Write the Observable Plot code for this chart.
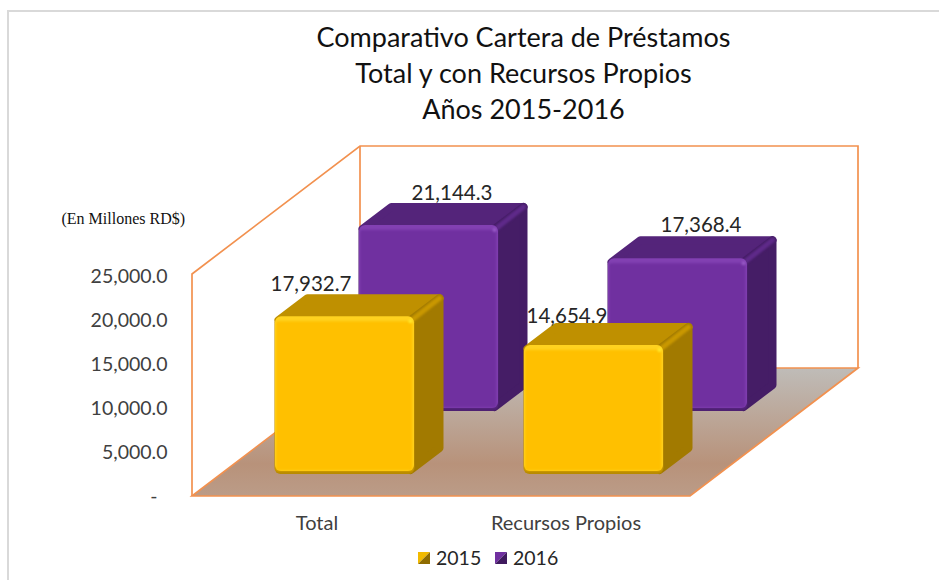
<!DOCTYPE html>
<html>
<head>
<meta charset="utf-8">
<script src="https://cdn.jsdelivr.net/npm/d3@7"></script>
<script src="https://cdn.jsdelivr.net/npm/@observablehq/plot@0.6"></script>
<style>
  html, body { margin: 0; padding: 0; background: #fff; }
  #chart { position: relative; width: 941px; height: 580px; overflow: hidden; }
  #frame { position: absolute; left: 7px; top: 10px; width: 930px; height: 570px;
           border-left: 2.5px solid #d9d9d9; border-top: 2.5px solid #d9d9d9; pointer-events: none; }
  .soft { filter: blur(1.2px); }
</style>
</head>
<body>
<div id="chart"><div id="frame"></div></div>
<script>
const categories = ["Total", "Recursos Propios"];
const years = ["2015", "2016"];
const values2015 = [17932.7, 14654.9];
const values2016 = [21144.3, 17368.4];
const yTicks = [0, 5000, 10000, 15000, 20000, 25000];
const titleLines = ["Comparativo Cartera de Préstamos", "Total y con Recursos Propios", "Años 2015-2016"];
const unitNote = "(En Millones RD$)";

const FONT = "Lato, 'Open Sans', sans-serif";
const INK = "#262626";
const depth = {dx: 168, dy: -128};
const looks = {
  "2015": {dx: 28,  dy: -22, front: "#FFC000", edge: "#B98B00", glow: "#FFD21F", top: "#BF9000", side: "#A27A00", ridge: "#C99800", tip: "#FFE92E", swatchA: "#F2BA00", swatchB: "#8F6C00",
           nudge: {"Total": [-6, -54], "Recursos Propios": [1, -51]}},
  "2016": {dx: 112, dy: -85, front: "#7030A0", edge: "#4E2072", glow: "#8240B2", top: "#54247A", side: "#451D66", ridge: "#5F2A8A", tip: "#9A5CC8", swatchA: "#7030A0", swatchB: "#3F1A5E",
           nudge: {"Total": [135, -117], "Recursos Propios": [135, -118]}}
};
const rows = years.map((year, s) => categories.map((category, i) => ({
  year, category, value: (s === 0 ? values2015 : values2016)[i]
})));

const NS = "http://www.w3.org/2000/svg";
function el(name, attrs, text) {
  const e = document.createElementNS(NS, name);
  for (const k in attrs) e.setAttribute(k, attrs[k]);
  if (text != null) e.textContent = text;
  return e;
}
const pts = a => a.map(p => p.join(",")).join(" ");

// floor and walls, placed from the scales
function room(index, {x, y}) {
  const g = el("g", {});
  const defs = el("defs", {});
  const grad = el("linearGradient", {id: "floorFill", x1: 0, y1: 0, x2: 0, y2: 1});
  [[0, "#BFBCB8"], [0.75, "#B8927A"], [1, "#BB9C88"]].forEach(([o, c]) =>
    grad.appendChild(el("stop", {offset: o, "stop-color": c})));
  defs.appendChild(grad);
  g.appendChild(defs);
  const x0 = x(categories[0]);
  const x1 = x(categories[1]) + x.bandwidth();
  const y0 = y(0);
  const yT = y(25000) - 2;
  const b = ([a, c]) => [a + depth.dx, c + depth.dy];
  const stroke = {stroke: "#F2914F", "stroke-width": 1.7, "stroke-linejoin": "miter"};
  g.appendChild(el("polygon", {points: pts([[x0, y0], [x1, y0], b([x1, y0]), b([x0, y0])]), ...stroke, fill: "url(#floorFill)"}));
  g.appendChild(el("polyline", {points: pts([[x0, y0], [x0, yT], b([x0, yT]), b([x1, yT]), b([x1, y0])]), ...stroke, fill: "none"}));
  g.appendChild(el("line", {x1: b([x0, 0])[0], x2: b([x0, 0])[0], y1: b([0, yT])[1], y2: b([0, y0])[1], ...stroke}));
  return g;
}

// top and side faces of one series' blocks
function faces(year, data) {
  const L = looks[year];
  return (index, {x, y}) => {
    const g = el("g", {});
    const d = [29, -22], k = 4;
    for (const r of data) {
      const c = x(r.category) + x.bandwidth() / 2 + L.dx;
      const l = c - 70, rr = c + 70;
      const t = y(r.value) + L.dy, b = y(0) + L.dy;
      const round = {"stroke-width": k * 2, "stroke-linejoin": "round"};
      g.appendChild(el("polygon", {points: pts([[l + k, t + k], [rr - k, t + k], [rr + d[0] - k, t + d[1] + k], [l + d[0] + k, t + d[1] + k]]), fill: L.top, stroke: L.top, ...round}));
      g.appendChild(el("polygon", {points: pts([[rr - k, t + k], [rr + d[0] - k, t + d[1] + k], [rr + d[0] - k, b + d[1] - k], [rr - k, b - k]]), fill: L.side, stroke: L.side, ...round}));
      g.appendChild(el("line", {x1: rr - 3, y1: t + 4, x2: rr + d[0] - 4, y2: t + d[1] + 4, stroke: L.ridge, "stroke-width": 5, "stroke-linecap": "round", class: "soft"}));
    }
    return g;
  };
}

function tip(year, data) {
  const L = looks[year];
  return (index, {x, y}) => {
    const g = el("g", {});
    for (const r of data) {
      const c = x(r.category) + x.bandwidth() / 2 + L.dx;
      g.appendChild(el("circle", {cx: c + 66, cy: y(r.value) + L.dy + 5, r: 2, fill: L.tip, class: "soft"}));
    }
    return g;
  };
}

function block(year, data) {
  const L = looks[year];
  const common = {x: "category", y: "value", dx: L.dx, dy: L.dy, rx: 6};
  return [
    faces(year, data),
    Plot.barY(data, {...common, insetLeft: 54.5, insetRight: 54.5, fill: L.edge}),
    Plot.barY(data, {...common, insetLeft: 55, insetRight: 55, insetBottom: 3, fill: L.glow}),
    Plot.barY(data, {...common, insetLeft: 56, insetRight: 56.5, insetTop: 5, insetBottom: 3.5, fill: L.front, rx: 2, className: "soft"}),
    tip(year, data)
  ];
}

function labels(year, data) {
  const L = looks[year];
  return data.map(r => Plot.text([r], {
    x: "category", y: "value",
    text: d => d3.format(",.1f")(d.value),
    dx: L.nudge[r.category][0], dy: L.nudge[r.category][1],
    fontSize: 20.5, fill: INK, fontFamily: FONT
  }));
}

// legend below the category labels
function legend() {
  const g = el("g", {});
  years.forEach((year, i) => {
    const L = looks[year];
    const X = 418 + i * 77, Y = 552, S = 12;
    g.appendChild(el("polygon", {points: pts([[X, Y], [X + S, Y], [X, Y + S]]), fill: L.swatchA}));
    g.appendChild(el("polygon", {points: pts([[X + S, Y], [X + S, Y + S], [X, Y + S]]), fill: L.swatchB}));
    g.appendChild(el("text", {x: X + 18, y: Y + 13, "text-anchor": "start", "font-size": 19.5, "font-family": FONT, fill: INK}, year));
  });
  return g;
}

const chart = Plot.plot({
  width: 941,
  height: 580,
  marginLeft: 192,
  marginRight: 251,
  marginTop: 146,
  marginBottom: 84,
  style: {background: "transparent", fontFamily: FONT},
  x: {type: "band", domain: categories, range: [192, 690], padding: 0, round: false, axis: null},
  y: {domain: [0, 25000], range: [496, 276], axis: null},
  marks: [
    room,
    Plot.axisY({
      ticks: yTicks,
      tickSize: 0,
      tickPadding: 25,
      tickFormat: v => v === 0 ? "-\u00a0\u00a0" : d3.format(",.1f")(v),
      fontSize: 19.5,
      fill: "#404040",
      fontFamily: FONT,
      label: null
    }),
    Plot.axisX({
      tickSize: 0,
      tickPadding: 19,
      fontSize: 20,
      fill: "#404040",
      fontFamily: FONT,
      label: null
    }),
    ...block("2016", rows[1]),
    ...block("2015", rows[0]),
    ...labels("2016", rows[1]),
    ...labels("2015", rows[0]),
    ...titleLines.map((line, i) => Plot.text([line], {
      text: d => d,
      frameAnchor: "top-left",
      dx: 523 - 192,
      dy: 38 + i * 36 - 146,
      textAnchor: "middle",
      lineAnchor: "middle",
      fontSize: 27,
      fill: "#111",
      fontFamily: FONT
    })),
    Plot.text([unitNote], {
      text: d => d,
      frameAnchor: "top-left",
      dx: 61 - 192,
      dy: 218 - 146,
      textAnchor: "start",
      lineAnchor: "middle",
      fontSize: 16,
      fill: "#111",
      fontFamily: "'Liberation Serif', serif"
    }),
    legend
  ]
});
const root = document.getElementById("chart");
root.insertBefore(chart, root.firstChild);
</script>
</body>
</html>
